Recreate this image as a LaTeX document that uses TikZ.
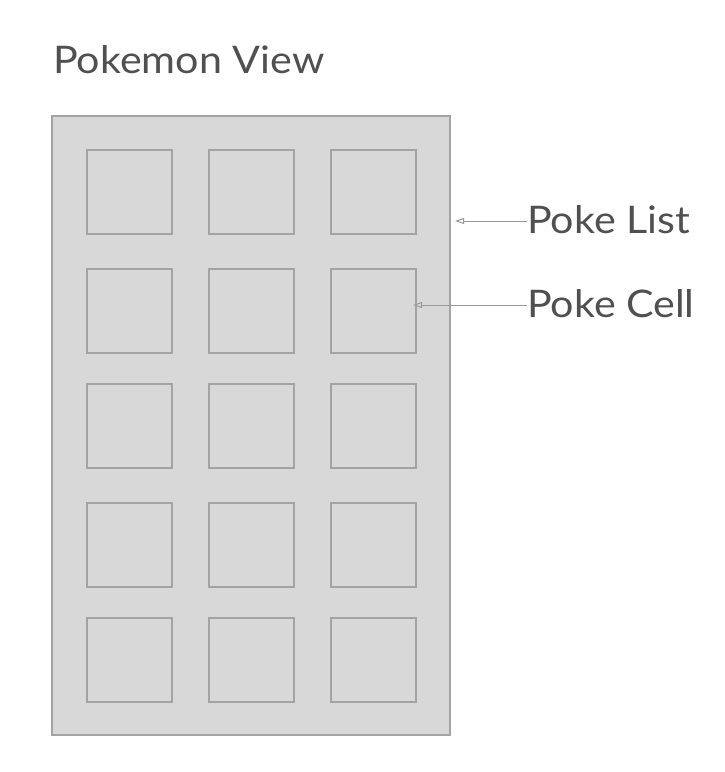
\documentclass[tikz,border=0pt]{standalone}
\usepackage{fontspec}
\setmainfont{Lato}[FakeStretch=1.085]
\usetikzlibrary{arrows.meta}
\definecolor{boxfill}{HTML}{D8D8D8}
\definecolor{boxline}{HTML}{A3A3A3}
\definecolor{txt}{HTML}{505050}
\definecolor{arrline}{HTML}{9A9A9A}
\tikzset{
  outerbox/.style={draw=boxline, fill=boxfill, line width=1.2pt, minimum width=398pt, minimum height=619pt, inner sep=0pt},
  cellbox/.style={draw=boxline, fill=boxfill, line width=1.2pt, minimum width=85pt, minimum height=84pt, inner sep=0pt},
  lbl/.style={text=txt, font=\fontsize{38}{40}\selectfont, inner sep=0pt},
  arr/.style={draw=arrline, line width=1pt, -{Triangle[open, length=9pt, width=6pt]}}
}
\begin{document}
\begin{tikzpicture}[x=1pt,y=-1pt]
\useasboundingbox (0,0) rectangle (724,772);
\node[lbl, anchor=base west] (title) at (53,73) {Pokemon View};
\node[outerbox] (list) at (251,425.5) {};
\foreach \c/\x in {1/129.5,2/251.5,3/373.5}{
  \foreach \r/\y in {1/192,2/311,3/426,4/545,5/660}{
    \node[cellbox] (c\r\c) at (\x,\y) {};
  }
}
\node[lbl, anchor=base west] (pl) at (527,233) {Poke List};
\node[lbl, anchor=base west] (pc) at (527,317) {Poke Cell};
\coordinate (plt) at (455,221);
\coordinate (pct) at (413,305);
\draw[arr] (pl.west |- plt) -- (plt);
\draw[arr] (pc.west |- pct) -- (pct);
\end{tikzpicture}
\end{document}
